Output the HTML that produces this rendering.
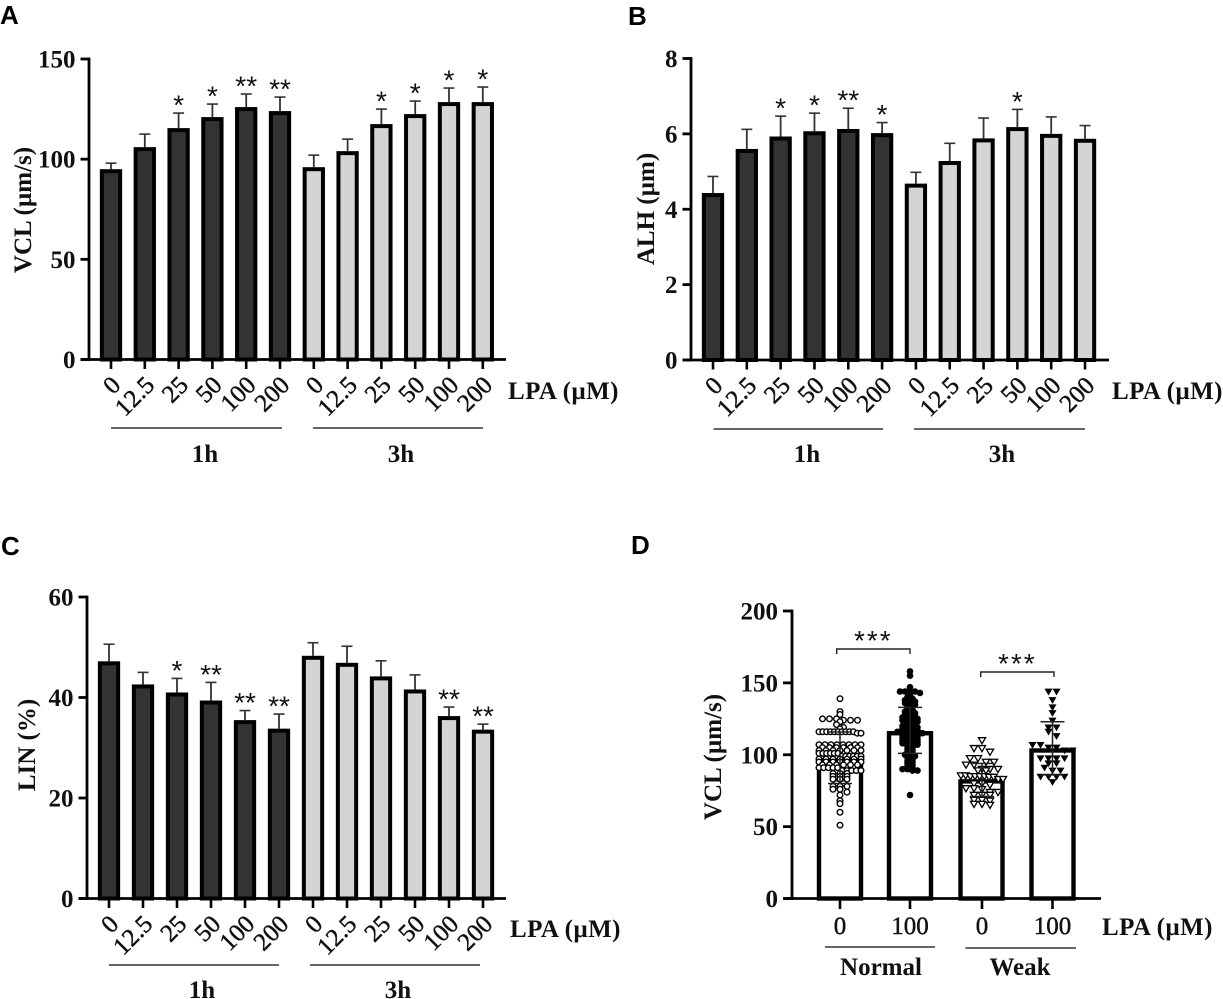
<!DOCTYPE html>
<html lang="en">
<head>
<meta charset="utf-8">
<title>Sperm motility bar charts</title>
<style>
html,body{margin:0;padding:0;background:#fff;}
svg{display:block;}
text{font-family:"Liberation Serif",serif;font-weight:bold;fill:#111;}
.panel-letter{font-family:"Liberation Sans",sans-serif;font-size:26px;fill:#000;}
.star{font-family:"Liberation Sans",sans-serif;font-weight:normal;font-size:28px;}
.tl{font-weight:normal;stroke:#111;stroke-width:0.45px;}
</style>
</head>
<body>
<svg id="fig" width="1223" height="999" viewBox="0 0 1223 999" xmlns="http://www.w3.org/2000/svg"></svg>
<script>
// ---------- shared categories ----------
const lpaLabels = ["0","12.5","25","50","100","200","0","12.5","25","50","100","200"];
const groupLabels = ["1h","3h"];

// ---------- panel A ----------
const vclMeans = [95,106,115.5,121,126,124,96,104,117.5,122.5,128.5,128.5];
const vclErrTops = [98,112.5,123,127.5,132.5,131,102,110,125,129,135.5,136];
const vclStars = ["","","*","*","**","**","","","*","*","*","*"];
const vclTicks = [0,50,100,150];

// ---------- panel B ----------
const alhMeans = [4.43,5.6,5.93,6.07,6.13,6.02,4.68,5.28,5.88,6.18,6.0,5.87];
const alhErrTops = [4.87,6.12,6.47,6.55,6.68,6.3,4.98,5.75,6.42,6.65,6.45,6.22];
const alhStars = ["","","*","*","**","*","","","","*","",""];
const alhTicks = [0,2,4,6,8];

// ---------- panel C ----------
const linMeans = [47.2,42.6,41,39.4,35.5,33.8,48.3,46.9,44.2,41.6,36.3,33.6];
const linErrTops = [50.6,45,43.8,43,37.4,36.7,50.9,50.2,47.3,44.5,38.1,34.7];
const linStars = ["","","*","**","**","**","","","","","**","**"];
const linTicks = [0,20,40,60];

// ---------- panel D ----------
const dCategories = ["0","100","0","100"];
const dGroups = ["Normal","Weak"];
const dTicks = [0,50,100,150,200];
const dMeans = [97.5,116.5,83,104.5];
const dSdUpper = [115.8,133,94,123];
const dSdLower = [80,101,71,86];
const dPointsNormal0 = [139,130,128,125,125,125,124,124,124,123,121,119,118,116,116,116,116,116,116,116,116,116,116,115,115,107,107,107,107,107,107,107,107,105,105,105,105,105,105,103,103,103,103,103,103,103,101,101,101,101,101,101,99,99,99,99,99,99,97,97,97,97,97,97,97,95,95,95,95,95,95,95,93,93,93,93,93,93,91,91,91,91,91,89,89,89,89,89,87,87,87,85,85,85,83,83,83,80,80,78,78,78,76,76,74,72,68,66,60,51];
const dPointsNormal100 = [158,155,147,144,144,144,144,143,141,140,139,138,137,137,136,135,135,134,133,132,131,130,130,129,128,128,127,126,126,125,125,124,124,123,123,122,122,121,120,120,119,119,118,118,117,117,116,116,116,115,115,115,114,114,113,113,112,112,111,111,110,110,109,109,108,108,107,107,106,105,104,103,102,101,100,100,99,98,97,96,95,94,93,92,91,90,90,89,89,72];
const dPointsWeak0 = [110,104.5,104.5,102,97.5,97.5,95,95,93,93,90,90,90,89,89,85.5,85.5,85,85,85,85,84.5,84.5,83,83,80,80,79,76.6,76.6,76,74,74,72,72,72,68.5,68.5,68,65.7,65.7,65];
const dPointsWeak100 = [143.9,143.9,138,133,129,123.7,119,119,116,113,106.8,106.8,105,105,103,103,97.5,97.5,97.5,97.5,94,94,91,89,89,84.7,84.7,84.7,84.7,81];

// ---------- helpers ----------
const svg = document.getElementById('fig');
const NS = 'http://www.w3.org/2000/svg';
function mk(tag, attrs, parent, txt){
  const el = document.createElementNS(NS, tag);
  for (const k in attrs) el.setAttribute(k, attrs[k]);
  if (txt !== undefined) el.textContent = txt;
  (parent || svg).appendChild(el);
  return el;
}
function linScale(d0, d1, r0, r1){ return v => r0 + (v - d0) * (r1 - r0) / (d1 - d0); }
function tickX(first, step){ return i => first + i * step; }

function panelLetter(letter, x, y){
  const t = mk('text', {x:x, y:y, class:'panel-letter'}, svg, letter);
  
  
}

function yAxis(g, ticks, y, axisX, tickLen, topPx, bottomPx){
  const line = mk('line', {x1:axisX, x2:axisX, y1:topPx - 1.4, y2:bottomPx + 1.4, stroke:'#000', 'stroke-width':2.8}, g);
  
  
  ticks.forEach(v => {
    const tk = mk('line', {x1:axisX - tickLen, x2:axisX, y1:y(v), y2:y(v), stroke:'#000', 'stroke-width':2.8}, g);
    
    
    const lb = mk('text', {x:axisX - tickLen - 5, y:y(v) + 8.5, 'text-anchor':'end', 'font-size':25}, g, String(v));
    
    
  });
}

function barPanel(cfg){
  const g = mk('g', {}, svg);
  
  
  const y = linScale(cfg.ticks[0], cfg.ticks[cfg.ticks.length - 1], cfg.y0, cfg.yTop);
  const x = tickX(cfg.first, cfg.step);
  const barW = 18.3;
  const sw = 4;
  lpaLabels.forEach((lab, i) => {
    const cx = x(i), top = y(cfg.means[i]), err = y(cfg.errTops[i]);
    const el = mk('line', {x1:cx, x2:cx, y1:top, y2:err, stroke:'#333', 'stroke-width':1.8}, g);
    
    
    const cap = mk('line', {x1:cx - 5.5, x2:cx + 5.5, y1:err, y2:err, stroke:'#333', 'stroke-width':1.6}, g);
    
    
    const bar = mk('rect', {x:cx - barW / 2, y:top + sw / 2, width:barW, height:cfg.y0 - top - sw / 2, fill:i < 6 ? '#333333' : '#d4d4d4', stroke:'#000', 'stroke-width':sw}, g);
    
    
    const tk = mk('line', {x1:cx, x2:cx, y1:cfg.y0, y2:cfg.y0 + 9.5, stroke:'#000', 'stroke-width':2.6}, g);
    
    
    const ax = cx + 11, ay = cfg.y0 + 27;
    const lb = mk('text', {x:ax, y:ay, 'text-anchor':'end', 'font-size':25, class:'tl', transform:'rotate(-45 ' + ax + ' ' + ay + ')'}, g, lab);
    
    
    if (cfg.stars[i]) {
      const st = mk('text', {x:cx, y:err + 1.5, 'text-anchor':'middle', class:'star'}, g, cfg.stars[i]);
      
      
    }
  });
  yAxis(g, cfg.ticks, y, cfg.axisX, 8.5, cfg.yTop, cfg.y0);
  const xl = mk('line', {x1:cfg.axisX - 8.5, x2:cfg.xEnd, y1:cfg.y0, y2:cfg.y0, stroke:'#000', 'stroke-width':2.8}, g);
  
  
  const yt = mk('text', {x:cfg.titleX, y:cfg.titleY, 'text-anchor':'middle', 'font-size':25, transform:'rotate(-90 ' + cfg.titleX + ' ' + cfg.titleY + ')'}, g, cfg.title);
  
  
  const lpa = mk('text', {x:cfg.lpaX, y:cfg.lpaY, 'font-size':25, 'letter-spacing':'0.4px'}, g, 'LPA (\u00b5M)');
  
  
  groupLabels.forEach((lab, k) => {
    const a = cfg.lines[k][0], b = cfg.lines[k][1];
    const ln = mk('line', {x1:a, x2:b, y1:cfg.lineY, y2:cfg.lineY, stroke:'#333', 'stroke-width':1.5}, g);
    
    
    const t = mk('text', {x:cfg.groupX[k], y:cfg.groupY, 'text-anchor':'middle', 'font-size':25}, g, lab);
    
    
  });
}

barPanel({name:'panel-a-vcl', means:vclMeans, errTops:vclErrTops, stars:vclStars, ticks:vclTicks,
  y0:359.5, yTop:59, first:111, step:33.8, axisX:89, xEnd:506, title:'VCL (\u00b5m/s)', titleX:31, titleY:210,
  lpaX:508, lpaY:399, lines:[[111,282],[313,483]], lineY:428, groupX:[205,401], groupY:462});
barPanel({name:'panel-b-alh', means:alhMeans, errTops:alhErrTops, stars:alhStars, ticks:alhTicks,
  y0:360, yTop:58.5, first:713, step:33.82, axisX:691, xEnd:1109, title:'ALH (\u00b5m)', titleX:654, titleY:209,
  lpaX:1112, lpaY:399, lines:[[713.5,883],[914,1085]], lineY:429, groupX:[807,1002], groupY:462});
barPanel({name:'panel-c-lin', means:linMeans, errTops:linErrTops, stars:linStars, ticks:linTicks,
  y0:898.5, yTop:597, first:109, step:34, axisX:87, xEnd:506, title:'LIN (%)', titleX:35, titleY:745,
  lpaX:510, lpaY:937, lines:[[109,279],[310,480]], lineY:965, groupX:[202,398], groupY:998});

panelLetter('A', 0, 24);
panelLetter('B', 628, 25);
panelLetter('C', 1, 555);
panelLetter('D', 631, 554);

// ---------- panel D ----------
function swarm(values, y, binSize, spacing, maxHalf){
  const bins = new Map();
  values.forEach(v => {
    const key = Math.round(v / binSize);
    if (!bins.has(key)) bins.set(key, []);
    bins.get(key).push(v);
  });
  const out = [];
  bins.forEach(list => {
    const n = list.length;
    const sp = n > 1 ? Math.min(spacing, 2 * maxHalf / (n - 1)) : 0;
    list.forEach((v, j) => out.push({x:(j - (n - 1) / 2) * sp, y:y(v)}));
  });
  return out;
}
function triangle(cx, cy, r){
  return (cx - r) + ',' + (cy - r * 0.75) + ' ' + (cx + r) + ',' + (cy - r * 0.75) + ' ' + cx + ',' + (cy + r * 0.95);
}
(function(){
  const g = mk('g', {}, svg);
  
  
  const y = linScale(0, 200, 898.5, 611);
  const centers = [840, 910, 982, 1052.5];
  const barCenters = [840, 910, 981.5, 1052.5];
  const series = [dPointsNormal0, dPointsNormal100, dPointsWeak0, dPointsWeak100];
  const binSizes = [2.5, 2, 4, 5];
  const spacing = [7, 5, 8, 8];
  const halfWidths = [21, 14, 21, 21];
  const barW = 42;
  const sw = 4.4;
  dCategories.forEach((lab, i) => {
    const cx = barCenters[i], top = y(dMeans[i]);
    const bar = mk('rect', {x:cx - barW / 2, y:top + sw / 2, width:barW, height:898.5 - top - sw / 2, fill:'none', stroke:'#000', 'stroke-width':sw}, g);
    
    
    const pts = swarm(series[i], y, binSizes[i], spacing[i], halfWidths[i]);
    pts.forEach(p => {
      let mark;
      if (i === 0) mark = mk('circle', {cx:centers[i] + p.x, cy:p.y, r:2.8, fill:'#fff', stroke:'#000', 'stroke-width':1.4}, g);
      else if (i === 1) mark = mk('circle', {cx:centers[i] + p.x, cy:p.y, r:3.3, fill:'#000'}, g);
      else if (i === 2) mark = mk('polygon', {points:triangle(centers[i] + p.x, p.y, 3.6), fill:'#fff', stroke:'#000', 'stroke-width':1.3}, g);
      else mark = mk('polygon', {points:triangle(centers[i] + p.x, p.y, 4), fill:'#000'}, g);
      
      
    });
    const up = y(dSdUpper[i]), lo = y(dSdLower[i]);
    const sd = mk('line', {x1:centers[i], x2:centers[i], y1:up, y2:lo, stroke:'#222', 'stroke-width':1.5}, g);
    
    
    [up, lo].forEach(cy => {
      const cap = mk('line', {x1:centers[i] - 12, x2:centers[i] + 12, y1:cy, y2:cy, stroke:'#222', 'stroke-width':1.5}, g);
      
      
    });
    const tk = mk('line', {x1:centers[i], x2:centers[i], y1:898.5, y2:909, stroke:'#000', 'stroke-width':2.6}, g);
    
    
    const lb = mk('text', {x:centers[i], y:934, 'text-anchor':'middle', 'font-size':25, class:'tl'}, g, lab);
    
    
  });
  yAxis(g, dTicks, y, 792, 9, 611, 898.5);
  const xl = mk('line', {x1:783, x2:1101, y1:898.5, y2:898.5, stroke:'#000', 'stroke-width':2.8}, g);
  
  
  const yt = mk('text', {x:721, y:757, 'text-anchor':'middle', 'font-size':25, transform:'rotate(-90 721 757)'}, g, 'VCL (\u00b5m/s)');
  
  
  const lpa = mk('text', {x:1102, y:935, 'font-size':25, 'letter-spacing':'0.4px'}, g, 'LPA (\u00b5M)');
  
  
  const spans = [[825,935,947],[965.5,1076,948]];
  const labX = [881,1020];
  dGroups.forEach((lab, k) => {
    const ln = mk('line', {x1:spans[k][0], x2:spans[k][1], y1:spans[k][2], y2:spans[k][2], stroke:'#333', 'stroke-width':1.5}, g);
    
    
    const t = mk('text', {x:labX[k], y:975, 'text-anchor':'middle', 'font-size':25}, g, lab);
    
    
  });
  const brackets = [[836.7,910,649],[980.7,1054,672]];
  brackets.forEach(b => {
    const br = mk('path', {d:'M' + b[0] + ' ' + (b[2] + 5) + 'V' + b[2] + 'H' + b[1] + 'V' + (b[2] + 5), fill:'none', stroke:'#222', 'stroke-width':1.4}, g);
    
    
    const st = mk('text', {x:(b[0] + b[1]) / 2, y:b[2] + 1, 'text-anchor':'middle', class:'star', 'letter-spacing':'2px'}, g, '***');
    
    
  });
})();
</script>
</body>
</html>
